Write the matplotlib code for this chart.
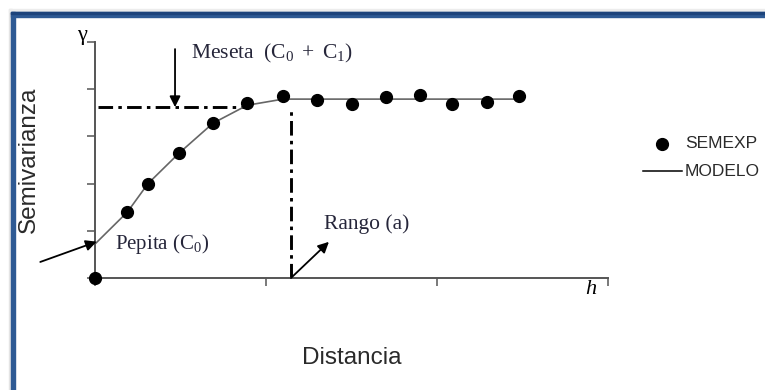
import matplotlib
matplotlib.use("Agg")
import matplotlib.pyplot as plt
from matplotlib.patches import Rectangle

plt.rcParams['mathtext.fontset'] = 'custom'
plt.rcParams['mathtext.rm'] = 'Liberation Serif'
plt.rcParams['mathtext.it'] = 'Liberation Serif:italic'

dist = [0.0, 0.19, 0.31, 0.49, 0.69, 0.89, 1.10, 1.30, 1.50, 1.70, 1.90, 2.09, 2.29, 2.48]
semexp = [0.0, 1.40, 2.00, 2.64, 3.28, 3.70, 3.85, 3.77, 3.68, 3.83, 3.87, 3.68, 3.72, 3.85]

# model curve (polyline)
model_x = [0.0, 0.19, 0.31, 0.49, 0.69, 0.89, 1.10, 2.48]
model_y = [0.72, 1.40, 2.00, 2.64, 3.28, 3.66, 3.79, 3.79]

nugget = 0.72
sill = 3.62
rango = 1.146

W, H = 765, 390
fig = plt.figure(figsize=(W / 100, H / 100), dpi=100)

# blue frame with a soft shadow
fig.patches.append(Rectangle((9 / W, 0), 3 / W, (H - 9) / H, transform=fig.transFigure,
                             color='#e4e4e4', zorder=0))
fig.patches.append(Rectangle((9 / W, (H - 12) / H), 1, 3 / H, transform=fig.transFigure,
                             color='#ececec', zorder=0))
fig.patches.append(Rectangle((11 / W, 0), 4.5 / W, (H - 12) / H, transform=fig.transFigure,
                             color='#2e5a94', zorder=1))
fig.patches.append(Rectangle((11 / W, (H - 16.5) / H), 1, 4.5 / H, transform=fig.transFigure,
                             color='#2e5a94', zorder=1))
fig.patches.append(Rectangle((11 / W, (H - 13.5) / H), 1, 1.5 / H, transform=fig.transFigure,
                             color='#1d447c', zorder=1))

ax = fig.add_axes([95 / W, (H - 278) / H, (608 - 95) / W, (278 - 42) / H])
ax.set_xlim(0, 3)
ax.set_ylim(0, 5)
for s in ['top', 'right']:
    ax.spines[s].set_visible(False)
for s in ['left', 'bottom']:
    ax.spines[s].set_color('#555555')
    ax.spines[s].set_linewidth(1.4)
ax.set_xticks([0, 1, 2, 3])
ax.set_yticks([0, 1, 2, 3, 4, 5])
ax.tick_params(length=6, width=1.1, color='#555555', labelbottom=False, labelleft=False)

ax.plot(model_x, model_y, '-', color='#666666', lw=1.2, zorder=2, clip_on=False)
ax.plot(dist, semexp, 'o', color='black', ms=8.5, zorder=3, clip_on=False)

dashdot = (0, (5, 1.8, 1.2, 1.8))
ax.plot([0.02, 0.88], [sill, sill], color='black', lw=2.1, linestyle=dashdot, zorder=1)
ax.plot([rango, rango], [0, sill], color='black', lw=2.1, linestyle=dashdot, zorder=1)

arr = dict(arrowstyle='-|>', color='black', lw=1.3, mutation_scale=16, shrinkA=0, shrinkB=0)
ax.annotate('', xy=(0.468, sill), xytext=(0.468, 4.85), arrowprops=arr, annotation_clip=False)
ax.annotate('', xy=(0.01, nugget + 0.05), xytext=(-0.32, 0.34), arrowprops=arr,
            annotation_clip=False)
ax.annotate('', xy=(1.368, 0.766), xytext=(rango, 0), arrowprops=arr, annotation_clip=False)

tc = '#26263a'
ax.text(0.56, 4.76, r'Meseta  ($\mathrm{C_0\ +\ C_1}$)', family='Liberation Serif',
        fontsize=15.5, color=tc, va='center', ha='left')
ax.text(0.115, 0.73, r'Pepita ($\mathrm{C_0}$)', family='Liberation Serif', fontsize=15,
        color=tc, va='center', ha='left')
ax.text(1.34, 1.15, 'Rango (a)', family='Liberation Serif', fontsize=15.5,
        color=tc, va='center', ha='left')
ax.text(-0.05, 5.14, 'γ', family='Liberation Serif', fontsize=16, color='black',
        va='center', ha='right')
ax.text(2.93, -0.25, 'h', family='Liberation Serif', style='italic', fontsize=16,
        color='black', va='center', ha='right')

fig.text(29 / W, 1 - 160 / H, 'Semivarianza', family='Liberation Sans', fontsize=17.5,
         color='#2a2a2a', rotation=90, va='center', ha='center')
fig.text(352 / W, 1 - 358 / H, 'Distancia', family='Liberation Sans', fontsize=17.5,
         color='#2a2a2a', va='center', ha='center')

# legend
lx = fig.add_axes([0, 0, 1, 1], facecolor='none')
lx.set_axis_off()
lx.set_xlim(0, W)
lx.set_ylim(H, 0)
lx.plot([662], [144], 'o', color='black', ms=8.5)
lx.plot([643, 682], [171, 171], '-', color='black', lw=1.1)
lx.text(685, 144, 'SEMEXP', family='Liberation Sans', fontsize=12.5, color='#2a2a2a', va='center')
lx.text(685, 171, 'MODELO', family='Liberation Sans', fontsize=12.5, color='#2a2a2a', va='center')

fig.savefig('out.png', dpi=100)
